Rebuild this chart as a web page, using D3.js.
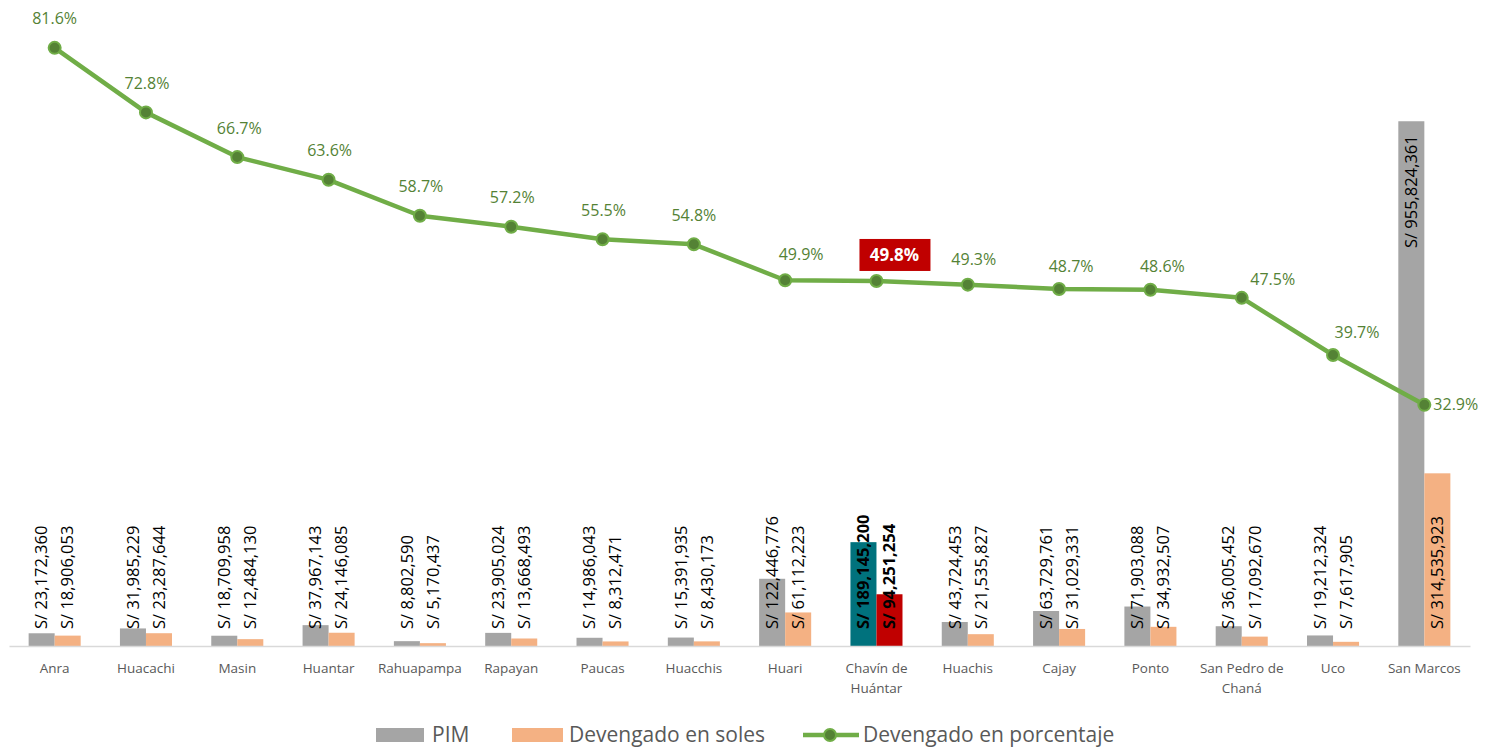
<!DOCTYPE html>
<html>
<head>
<meta charset="utf-8">
<script src="https://cdnjs.cloudflare.com/ajax/libs/d3/7.8.5/d3.min.js"></script>
<style>
  body { margin: 0; background: #fff; }
  svg { font-family: "Open Sans", "Noto Sans", sans-serif; }
</style>
</head>
<body>
<div id="chart"></div>
<script>
// Data
const categories = ["Anra", "Huacachi", "Masin", "Huantar", "Rahuapampa", "Rapayan", "Paucas", "Huacchis",
    "Huari", "Chavín de|Huántar", "Huachis", "Cajay", "Ponto", "San Pedro de|Chaná", "Uco", "San Marcos"];
const pim = [23172360, 31985229, 18709958, 37967143, 8802590, 23905024, 14986043, 15391935,
    122446776, 189145200, 43724453, 63729761, 71903088, 36005452, 19212324, 955824361];
const devengado = [18906053, 23287644, 12484130, 24146085, 5170437, 13668493, 8312471, 8430173,
    61112223, 94251254, 21535827, 31029331, 34932507, 17092670, 7617905, 314535923];
const porcentaje = [81.6, 72.8, 66.7, 63.6, 58.7, 57.2, 55.5, 54.8,
    49.9, 49.8, 49.3, 48.7, 48.6, 47.5, 39.7, 32.9];
const highlight = "Chavín de|Huántar";

document.addEventListener('DOMContentLoaded', function() {
    const width = 1490, height = 747;
    const baseline = 646;

    const svg = d3.select("#chart").append("svg")
        .attr("width", width)
        .attr("height", height);

    // Scales
    const x = d3.scaleBand().domain(categories).range([9, 1470]).padding(0);
    const barW = x.bandwidth() * 0.285;
    const yBar = d3.scaleLinear().domain([0, 1e9]).range([baseline, baseline - 549]);
    const yPct = d3.scaleLinear().domain([0, 100]).range([baseline, baseline - 733]);
    const cx = c => x(c) + x.bandwidth() / 2;

    const rows = categories.map((c, i) => ({ c, pim: pim[i], dev: devengado[i], pct: porcentaje[i], i }));

    // Bars
    const g = svg.append("g");
    g.selectAll(".pim").data(rows).enter().append("rect")
        .attr("x", d => cx(d.c) - barW)
        .attr("width", barW)
        .attr("y", d => yBar(d.pim))
        .attr("height", d => baseline - yBar(d.pim))
        .attr("fill", d => d.c === highlight ? "#00727D" : "#A5A5A5");
    g.selectAll(".dev").data(rows).enter().append("rect")
        .attr("x", d => cx(d.c))
        .attr("width", barW)
        .attr("y", d => yBar(d.dev))
        .attr("height", d => baseline - yBar(d.dev))
        .attr("fill", d => d.c === highlight ? "#C00000" : "#F4B183");

    // Axis
    const axis = svg.append("g")
        .attr("transform", `translate(0,${baseline})`)
        .call(d3.axisBottom(x).tickSize(0).tickFormat(""));
    axis.select(".domain").attr("stroke", "#D9D9D9").attr("stroke-width", 1.5);

    // Category labels (two lines where needed)
    const catText = svg.append("g").selectAll("text").data(rows).enter().append("text")
        .attr("x", d => cx(d.c))
        .attr("y", 673)
        .attr("text-anchor", "middle")
        .attr("fill", "#595959")
        .style("font-size", "13.5px");
    catText.each(function(d) {
        d.c.split("|").forEach((part, k) => {
            d3.select(this).append("tspan")
                .attr("x", cx(d.c))
                .attr("dy", k === 0 ? 0 : 20)
                .text(part);
        });
    });

    // Value labels on bars (rotated)
    const fmt = v => "S/ " + d3.format(",")(v);
    function barLabel(d, value, offset, atTop) {
        const xx = cx(d.c) + offset;
        const yy = atTop ? yBar(value) + 14 : baseline - 17;
        svg.append("text")
            .attr("transform", `translate(${xx},${yy}) rotate(-90)`)
            .attr("text-anchor", atTop ? "end" : "start")
            .attr("dy", "0.35em")
            .attr("fill", "#000")
            .style("font-size", "16.5px")
            .style("font-weight", d.c === highlight ? "bold" : "normal")
            .text(fmt(value));
    }
    rows.forEach(d => {
        barLabel(d, d.pim, -barW / 2, d.c === "San Marcos");
        barLabel(d, d.dev, barW / 2, false);
    });

    // Percentage line
    const line = d3.line().x(d => cx(d.c)).y(d => yPct(d.pct));
    svg.append("path").datum(rows)
        .attr("d", line)
        .attr("fill", "none")
        .attr("stroke", "#70AD47")
        .attr("stroke-width", 4.5)
        .attr("stroke-linejoin", "round");
    svg.selectAll(".pt").data(rows).enter().append("circle")
        .attr("cx", d => cx(d.c))
        .attr("cy", d => yPct(d.pct))
        .attr("r", 6)
        .attr("fill", "#548235")
        .attr("stroke", "#70AD47")
        .attr("stroke-width", 2);

    // Percentage labels (nudged like the original)
    const labelDx = [0, 1, 2, 1, 1, 1, 1, 0, 16, 18, 6, 12, 12, 31, 24, 31];
    const labelDy = [-29, -29, -29, -29, -29, -29, -29, -29, -26, -26, -25, -23, -23, -18, -23, 0];
    rows.forEach(d => {
        const px = cx(d.c) + labelDx[d.i];
        const py = yPct(d.pct) + labelDy[d.i];
        const last = d.i === rows.length - 1;
        if (d.c === highlight) {
            svg.append("rect")
                .attr("x", px - 35).attr("y", py - 16)
                .attr("width", 71).attr("height", 32)
                .attr("fill", "#C00000");
            svg.append("text")
                .attr("x", px).attr("y", py)
                .attr("dy", "0.35em")
                .attr("text-anchor", "middle")
                .attr("fill", "#fff")
                .style("font-size", "17px")
                .style("font-weight", "bold")
                .text(d.pct.toFixed(1) + "%");
        } else {
            svg.append("text")
                .attr("x", last ? cx(d.c) + 9 : px)
                .attr("y", py)
                .attr("dy", "0.35em")
                .attr("text-anchor", last ? "start" : "middle")
                .attr("fill", "#548235")
                .style("font-size", "16px")
                .text(d.pct.toFixed(1) + "%");
        }
    });

    // Legend
    const legend = svg.append("g").style("font-size", "21px").attr("fill", "#595959");
    legend.append("rect").attr("x", 376).attr("y", 728).attr("width", 48).attr("height", 14).attr("fill", "#A5A5A5");
    legend.append("text").attr("x", 432).attr("y", 735).attr("dy", "0.35em").text("PIM");
    legend.append("rect").attr("x", 512).attr("y", 728).attr("width", 51).attr("height", 14).attr("fill", "#F4B183");
    legend.append("text").attr("x", 569).attr("y", 735).attr("dy", "0.35em").text("Devengado en soles");
    legend.append("line").attr("x1", 803).attr("x2", 859).attr("y1", 735).attr("y2", 735)
        .attr("stroke", "#70AD47").attr("stroke-width", 4.5);
    legend.append("circle").attr("cx", 830).attr("cy", 735).attr("r", 6)
        .attr("fill", "#548235").attr("stroke", "#70AD47").attr("stroke-width", 2);
    legend.append("text").attr("x", 863).attr("y", 735).attr("dy", "0.35em").text("Devengado en porcentaje");
});
</script>
</body>
</html>
